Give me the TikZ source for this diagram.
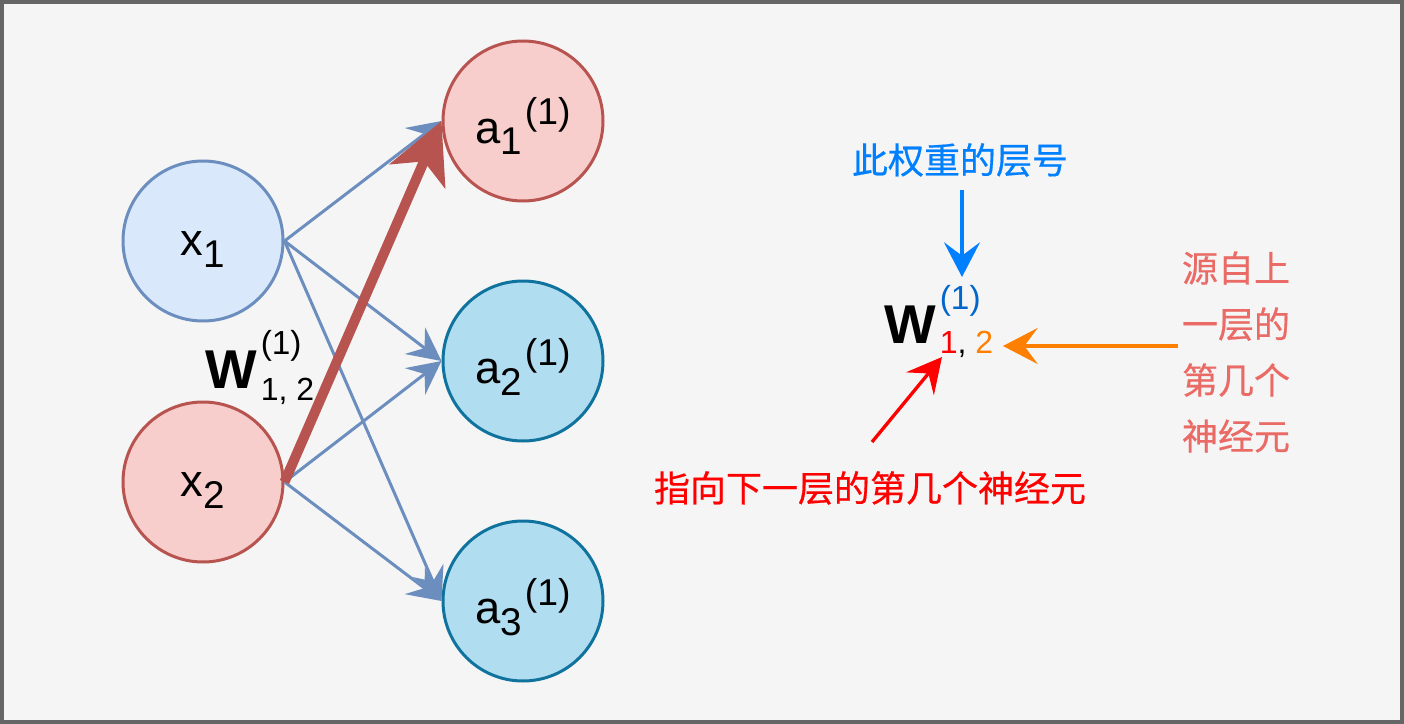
\documentclass[tikz,border=0pt]{standalone}
\usepackage{fontspec}
\setmainfont{Liberation Sans}
\newfontfamily\cjk[FakeBold=0.5]{Noto Sans CJK SC}
\usetikzlibrary{arrows.meta}
\definecolor{bg}{HTML}{F5F5F5}
\definecolor{framec}{HTML}{666666}
\definecolor{blueS}{HTML}{6C8EBF}
\definecolor{blueF}{HTML}{DAE8FC}
\definecolor{redS}{HTML}{B85450}
\definecolor{redF}{HTML}{F8CECC}
\definecolor{tealS}{HTML}{10739E}
\definecolor{tealF}{HTML}{B1DDF0}
\definecolor{noteblue}{HTML}{007FFF}
\definecolor{supblue}{HTML}{0066CC}
\definecolor{notered}{HTML}{FF0000}
\definecolor{noteorange}{HTML}{FF8000}
\definecolor{notepink}{HTML}{EA6B66}
\newcommand{\nlab}[2]{\fontsize{34pt}{34pt}\selectfont #1\raisebox{-9pt}{\fontsize{29pt}{29pt}\selectfont #2}}
\newcommand{\suplab}{\hspace{2pt}\raisebox{13.5pt}{\fontsize{28pt}{28pt}\selectfont (1)}}
\tikzset{
  neuron/.style={circle, minimum size=120pt, inner sep=0pt, line width=2.25pt},
  xin/.style={neuron, text height=21pt, text depth=0pt},
  aout/.style={neuron, text height=33pt, text depth=0pt},
  wedge/.style={draw=blueS, line width=2.25pt, -{Stealth[length=25pt,width=25pt,inset=9pt]}},
  bigedge/.style={draw=redS, line width=7.5pt, -{Stealth[length=45pt,width=45pt,inset=12pt]}},
  notearrow/.style={line width=2.5pt, -{Stealth[length=26pt,width=27pt,inset=10pt]}},
  cjktext/.style={font=\cjk\fontsize{27pt}{42pt}\selectfont, inner sep=0pt},
  wtext/.style={anchor=base west, inner sep=0pt}
}
\begin{document}
\begin{tikzpicture}[x=0.75pt, y=-0.75pt]
\useasboundingbox (0,0) rectangle (1404,724);
\draw[draw=framec, fill=bg, line width=3pt] (2,2) rectangle (1402,722);

% neurons
\node[xin, draw=blueS, fill=blueF] (x1) at (203,241) {\nlab{x}{1}\hspace{7pt}};
\node[xin, draw=redS, fill=redF] (x2) at (203,482) {\nlab{x}{2}\hspace{7pt}};
\node[aout, draw=redS, fill=redF] (a1) at (523,121) {\nlab{a}{1}\suplab\hspace{4pt}};
\node[aout, draw=tealS, fill=tealF] (a2) at (523,361) {\nlab{a}{2}\suplab\hspace{4pt}};
\node[aout, draw=tealS, fill=tealF] (a3) at (523,601) {\nlab{a}{3}\suplab\hspace{4pt}};

% connections
\draw[wedge] (x1.east) -- (a1.west);
\draw[wedge] (x1.east) -- (a2.west);
\draw[wedge] (x1.east) -- (a3.west);
\draw[wedge] (x2.east) -- (a2.west);
\draw[wedge] (x2.east) -- (a3.west);
\draw[bigedge] (x2.east) -- (a1.west);

% weight label on the network
\node[wtext] (wl) at (205,388) {{\fontsize{41pt}{41pt}\bfseries W}\hspace{3pt}\rlap{\raisebox{25pt}{\fontsize{25pt}{25pt}\selectfont (1)}}\raisebox{-9pt}{\fontsize{24pt}{24pt}\selectfont 1, 2}};

% annotated weight
\node[wtext] (wr) at (884,343) {{\fontsize{41pt}{41pt}\bfseries W}\hspace{3pt}\rlap{\raisebox{25pt}{\fontsize{25pt}{25pt}\selectfont\color{supblue}(1)}}\raisebox{-7.5pt}{\fontsize{24pt}{24pt}\selectfont{\color{notered}1}, {\color{noteorange}2}}};

\node[cjktext, text=noteblue] (t1) at (960,160) {此权重的层号};
\node[cjktext, text=notepink, align=center] (t2) at (1236,352) {源自上\\一层的\\第几个\\神经元};
\node[cjktext, text=notered] (t3) at (870,488) {指向下一层的第几个神经元};

\coordinate (bS) at (962,190);
\coordinate (bE) at (962,277);
\coordinate (oS) at (1178,346);
\coordinate (oE) at (1003,346);
\coordinate (rS) at (872,442);
\coordinate (rE) at (942,357);
\draw[notearrow, noteblue] (bS) -- (bE);
\draw[notearrow, noteorange] (oS) -- (oE);
\draw[notearrow, notered] (rS) -- (rE);
\end{tikzpicture}
\end{document}
